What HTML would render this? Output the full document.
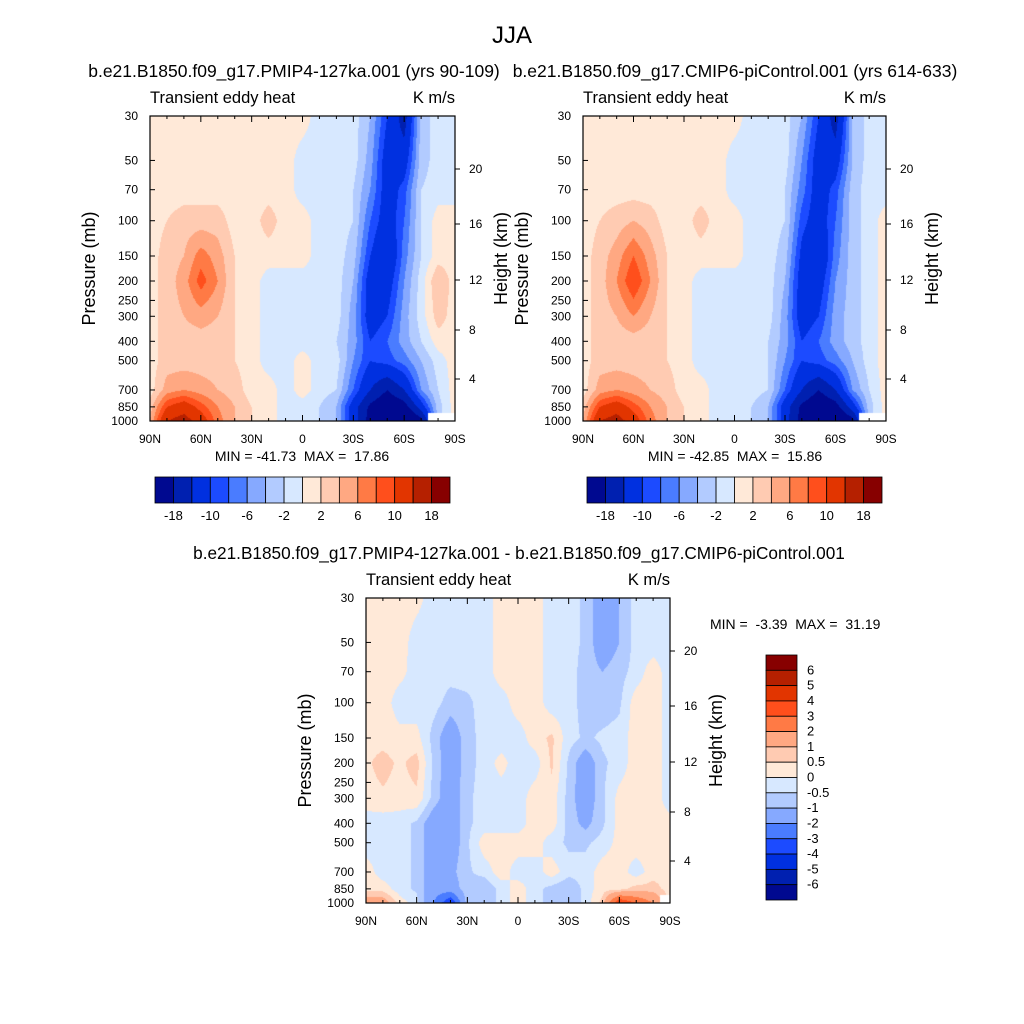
<!DOCTYPE html>
<html><head><meta charset="utf-8">
<style>
body{margin:0;background:#fff;}
#root{position:relative;width:1024px;height:1024px;font-family:"Liberation Sans",sans-serif;color:#000;}
canvas{position:absolute;}
svg{position:absolute;left:0;top:0;}
text{white-space:pre;}
</style></head>
<body>
<div id="root">
<canvas id="c1" width="305" height="305" style="left:150px;top:116px"></canvas>
<canvas id="c2" width="303" height="305" style="left:583px;top:116px"></canvas>
<canvas id="c3" width="304" height="305" style="left:366px;top:598px"></canvas>
<svg id="ov" width="1024" height="1024"></svg>
</div>
<script>
// ---- data ----
const lats = [90,80,70,60,50,40,30,20,10,0,-10,-20,-30,-40,-50,-60,-70,-80,-90];
const plevs = [30,50,70,100,150,200,300,400,500,700,850,1000];
const pTicks = [30,50,70,100,150,200,250,300,400,500,700,850,1000];
const latTickLabels = ["90N","60N","30N","0","30S","60S","90S"];
const hTicks = [20,16,12,8,4];
const levelsAbs = [-18,-14,-10,-8,-6,-4,-2,0,2,4,6,8,10,14,18];
const levelsAbsLabels = ["-18","-10","-6","-2","2","6","10","18"];
const levelsDiff = [-6,-5,-4,-3,-2,-1,-0.5,0,0.5,1,2,3,4,5,6];
const levelsDiffLabels = ["6","5","4","3","2","1","0.5","0","-0.5","-1","-2","-3","-4","-5","-6"];
const colors = ["#000990","#0020b0","#0030e0","#1c4bff","#4a7cff","#86a9ff","#b2cbff","#d7e8ff","#ffe9d8","#ffcbb2","#ffa882","#ff7a45","#ff4f1c","#e23500","#b52000","#870000"];

const field1 = [
[1,1,1,1,1,1,1,1,1,1,-1,-1,-1,-4,-10,-16,-3,-1,-1],
[1,1,1,1,1,1,1,1,1,-1,-1,-1,-1,-5,-12,-12,-3,-1,-1],
[1,1,1,1,1,1,1,1,1,-1,-1,-1,-2,-6,-12,-9,-2,-1,-1],
[1,2,3,3,3,1,1,3,1,1,-1,-1,-2,-8,-12,-8,-2,1,1],
[1,3,4,7,5,2,1,1,1,1,-1,-1,-3,-10,-14,-7,-2,1,1],
[1,3,5,9,6,2,1,-1,-1,-1,-1,-1,-4,-12,-12,-6,-1,4,1],
[1,3,4,5,4,2,1,-1,-1,-1,-1,-1,-5,-12,-10,-5,-1,3,1],
[1,3,3,3,3,2,1,-1,-1,-1,-1,-2,-5,-10,-8,-5,-2,1,1],
[1,3,3,3,3,2,1,-1,-1,1,-1,-1,-6,-10,-9,-7,-4,-1,1],
[1,5,6,5,4,3,1,1,-1,1,-1,-2,-8,-14,-18,-14,-6,-2,1],
[3,10,12,9,6,4,2,1,-1,-1,-2,-4,-12,-19,-22,-20,-12,-3,1],
[4,14,16,12,7,4,2,1,-1,-1,-2,-4,-12,-20,-24,-24,-20,null,null]];
const field2 = [
[1,1,1,1,1,1,1,1,1,1,-1,-1,-1,-4,-10,-16,-4,-1,-1],
[1,1,1,1,1,1,1,1,1,-1,-1,-1,-1,-6,-12,-12,-4,-1,-1],
[1,1,1,1,1,1,1,1,1,-1,-1,-1,-2,-7,-12,-9,-3,-1,-1],
[1,2,3,4,3,1,1,3,1,1,-1,-1,-2,-9,-12,-8,-3,-1,1],
[1,3,5,8,5,2,1,1,1,1,-1,-1,-3,-11,-14,-7,-3,-1,1],
[1,3,6,10,6,2,1,-1,-1,-1,-1,-1,-4,-12,-12,-6,-3,-1,1],
[1,3,4,6,4,2,1,-1,-1,-1,-1,-1,-5,-12,-10,-5,-3,-1,1],
[1,3,3,3,3,2,1,-1,-1,-1,-1,-2,-5,-10,-8,-5,-3,-1,1],
[1,3,3,3,3,2,1,-1,-1,-1,-1,-2,-6,-10,-9,-7,-4,-1,1],
[1,5,6,5,4,3,1,1,-1,-1,-1,-2,-8,-14,-18,-14,-6,-2,1],
[3,10,12,9,6,4,2,1,-1,-1,-2,-4,-12,-19,-22,-20,-12,-3,1],
[4,14,16,12,7,4,2,1,-1,-1,-2,-4,-12,-20,-24,-24,-20,null,null]];
const field3 = [
[.3,.3,.3,.2,-.3,-.3,-.3,-.3,.3,.3,.3,-.3,-.3,-.6,-1.5,-1,-.3,-.3,-.3],
[.3,.3,.3,-.3,-.3,-.3,-.3,-.3,.3,.3,.3,-.3,-.3,-.6,-1.5,-1,-.3,-.3,-.3],
[.3,.3,.2,-.3,-.3,-.3,-.3,-.3,.3,.3,.3,-.3,-.3,-.7,-1,-.7,-.3,.3,-.3],
[.3,.3,-.3,-.3,-.3,-.7,-.6,-.3,-.3,.3,.3,-.3,-.3,-.7,-.8,-.6,.3,.3,-.3],
[.3,.3,.2,.2,-.7,-1.5,-.7,-.3,-.3,-.3,.3,.6,-.3,-.6,-.4,-.3,.3,.3,-.3],
[.4,.7,.4,.7,-.6,-1.5,-.7,-.3,.2,-.3,-.3,.6,-.6,-1.5,-.6,-.3,.3,.3,-.3],
[.3,.4,.3,.4,-.7,-1.5,-.6,-.3,-.3,-.3,.3,.3,-.7,-1.5,-.6,.2,.3,.3,-.3],
[-.3,-.3,-.3,-.6,-1.5,-1.5,-.6,-.3,-.3,-.3,.3,.3,-.7,-1.2,-.6,.2,.3,.3,.2],
[-.3,-.3,-.3,-.6,-1.5,-1.5,-.6,.3,.3,.3,.3,-.3,-.6,-.6,-.3,.2,.3,.3,.2],
[.3,-.3,-.3,-.6,-1.5,-1.2,-.6,-.3,.3,-.3,-.3,.3,-.3,-.3,.3,.3,-.3,.3,.3],
[.3,.3,-.3,-.6,-1.5,-1.5,-.6,-1,-.3,.3,-.3,-.7,-1,-.3,.3,.3,.7,.7,.3],
[1.5,1.5,.3,-.3,-2,-4,-.7,-1,-.3,.3,-.3,-.7,-1,-.3,.7,4,3,2,null]];

// ---- axis functions ----
const L30=Math.log(30), LR=Math.log(1000)-Math.log(30);
function yOf(p,top,h){return top+(Math.log(p)-L30)/LR*h;}
function xOf(lat,left,w){return left+(90-lat)/180*w;}
function levelIndex(v,levels){let i=0;while(i<levels.length&&v>=levels[i])i++;return i;}
function sample(field,lat,p){
  let fx=(90-lat)/10; let i=Math.min(Math.floor(fx),lats.length-2); let tx=fx-i;
  let lp=Math.log(p); let j=0; while(j<plevs.length-2&&lp>Math.log(plevs[j+1]))j++;
  let ty=(lp-Math.log(plevs[j]))/(Math.log(plevs[j+1])-Math.log(plevs[j])); ty=Math.max(0,Math.min(1,ty));
  const a=field[j][i],b=field[j][i+1],c=field[j+1][i],d=field[j+1][i+1];
  if(ty>0.45&&((c===null&&tx<0.6)||(d===null&&tx>0.4)))return null;
  const cc=c===null?a:c, dd=d===null?b:d;
  return (a*(1-tx)+b*tx)*(1-ty)+(cc*(1-tx)+dd*tx)*ty;
}
function drawField(id,field,levels){
  const cv=document.getElementById(id),ctx=cv.getContext('2d');const W=cv.width,H=cv.height;
  for(let y=0;y<H;y++){
    const p=Math.exp(L30+(y+0.5)/H*LR);
    let run=-1,start=0;
    for(let x=0;x<=W;x++){
      let k=-2;
      if(x<W){const lat=90-(x+0.5)/W*180;const v=sample(field,lat,p);k=v===null?-3:levelIndex(v,levels);}
      if(k!==run){ if(run>=0){ctx.fillStyle=colors[run];ctx.fillRect(start,y,x-start,1);} run=k;start=x;}
    }
  }
}
drawField('c1',field1,levelsAbs);
drawField('c2',field2,levelsAbs);
drawField('c3',field3,levelsDiff);

// ---- overlay ----
const NS="http://www.w3.org/2000/svg";const ov=document.getElementById('ov');
function el(tag,attrs,txt){const e=document.createElementNS(NS,tag);for(const k in attrs)e.setAttribute(k,attrs[k]);if(txt!==undefined)e.textContent=txt;ov.appendChild(e);return e;}
function text(x,y,s,size,anchor,name,rot){
  const t=el('text',{x:x,y:y,'font-size':size,'text-anchor':anchor||'start','font-family':'Liberation Sans, sans-serif'},s);
  if(rot)t.setAttribute('transform','rotate(-90 '+x+' '+y+')');
  
  
  return t;
}
function line(x1,y1,x2,y2,name){const l=el('line',{x1:x1,y1:y1,x2:x2,y2:y2,stroke:'#000','stroke-width':1});
  
  }

function panel(left,top,w,h,title,units,tag){
  const fr=el('rect',{x:left,y:top,width:w,height:h,fill:'none',stroke:'#000','stroke-width':1.2});
  
  
  text(left,top-13,title,16.5,'start',tag+'-left-title');
  text(left+w,top-13,units,16.5,'end',tag+'-units');
  pTicks.forEach(p=>{const y=yOf(p,top,h);line(left,y,left+5,y,tag+'-y-tick');text(left-12,y+4,String(p),12,'end',tag+'-y-tick-label');});
  for(let lat=90;lat>=-90;lat-=10){const x=xOf(lat,left,w);const len=(lat%30===0)?6:3;
    line(x,top+h,x,top+h-len,tag+'-x-tick');line(x,top,x,top+len,tag+'-x-tick-top');}
  latTickLabels.forEach((s,i)=>{text(xOf(90-30*i,left,w),top+h+22,s,12,'middle',tag+'-x-tick-label');});
  const hOff=[53,108,164,214,263];
  hTicks.forEach((z,i)=>{const y=top+hOff[i];line(left+w,y,left+w+5,y,tag+'-height-tick');text(left+w+14,y+4,String(z),12,'start',tag+'-height-tick-label');});
  text(left-55,top+h/2,'Pressure (mb)',18,'middle',tag+'-y-axis-title',true);
  text(left+w+52,top+h/2-10,'Height (km)',18,'middle',tag+'-height-axis-title',true);
}
text(512,43,'JJA',24,'middle','main-title');
text(294,77,'b.e21.B1850.f09_g17.PMIP4-127ka.001 (yrs 90-109)',17.5,'middle','panel1-title');
text(735,77,'b.e21.B1850.f09_g17.CMIP6-piControl.001 (yrs 614-633)',17.5,'middle','panel2-title');
text(519,559,'b.e21.B1850.f09_g17.PMIP4-127ka.001 - b.e21.B1850.f09_g17.CMIP6-piControl.001',17.2,'middle','panel3-title');
panel(150,116,305,305,'Transient eddy heat','K m/s','panel1');
panel(583,116,303,305,'Transient eddy heat','K m/s','panel2');
panel(366,598,304,305,'Transient eddy heat','K m/s','panel3');
text(302,461,'MIN = -41.73  MAX =  17.86',14,'middle','panel1-min-max');
text(735,461,'MIN = -42.85  MAX =  15.86',14,'middle','panel2-min-max');
text(710,629,'MIN =  -3.39  MAX =  31.19',14,'start','panel3-min-max');

function hbar(left,top,w,h,tag){
  const bw=w/16;
  colors.forEach((c,i)=>{const r=el('rect',{x:left+i*bw,y:top,width:bw,height:h,fill:c,stroke:'#000','stroke-width':0.8});
    
    });
  levelsAbsLabels.forEach((s,i)=>{text(left+bw*(1+2*i),top+h+17,s,13,'middle',tag+'-label');});
}
hbar(155,477,295,26,'colorbar1');
hbar(587,477,295,26,'colorbar2');
(function(){const left=766,top=655,w=31,h=245,bh=h/16;
  for(let i=0;i<16;i++){const r=el('rect',{x:left,y:top+i*bh,width:w,height:bh,fill:colors[15-i],stroke:'#000','stroke-width':0.8});
    
    }
  levelsDiffLabels.forEach((s,i)=>{text(left+w+10,top+bh*(i+1)+4,s,13,'start','colorbar3-label');});
})();
</script>
</body></html>
